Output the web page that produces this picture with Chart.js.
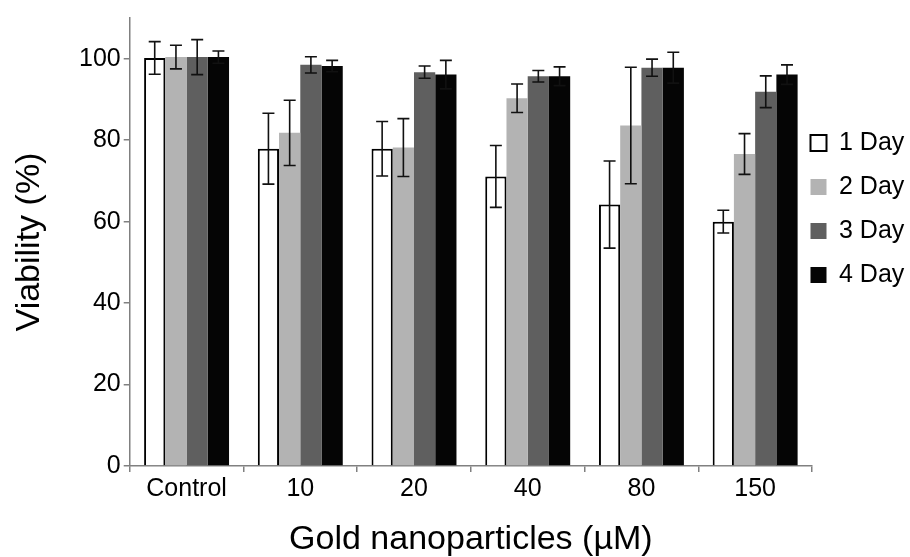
<!DOCTYPE html>
<html>
<head>
<meta charset="utf-8">
<script src="https://cdn.jsdelivr.net/npm/chart.js@4.4.1/dist/chart.umd.min.js"></script>
<style>
  html, body { margin: 0; padding: 0; background: #ffffff; }
  #wrap { width: 910px; height: 557px; position: relative; }
</style>
</head>
<body>
<div id="wrap"><canvas id="c"></canvas></div>
<script>
// ---- data ----
const categories = ['Control', '10', '20', '40', '80', '150'];
const seriesNames = ['1 Day', '2 Day', '3 Day', '4 Day'];
const day1 = [100.2, 77.9, 77.9, 71.1, 64.2, 60.0];
const day1Err = [4.0, 8.7, 6.7, 7.6, 10.7, 2.8];
const day2 = [100.4, 81.8, 78.2, 90.3, 83.6, 76.6];
const day2Err = [2.9, 8.0, 7.1, 3.5, 14.3, 5.0];
const day3 = [100.4, 98.5, 96.7, 95.7, 97.8, 91.9];
const day3Err = [4.3, 2.0, 1.5, 1.4, 2.1, 3.9];
const day4 = [100.4, 98.2, 96.1, 95.7, 97.8, 96.1];
const day4Err = [1.5, 1.4, 3.5, 2.3, 3.8, 2.4];
const yTicks = [0, 20, 40, 60, 80, 100];
const xTitle = 'Gold nanoparticles (\u00B5M)';
const yTitle = 'Viability (%)';

const FONT = "'Liberation Sans', Arial, sans-serif";
const seriesValues = [day1, day2, day3, day4];
const seriesErrors = [day1Err, day2Err, day3Err, day4Err];
const fills = ['#ffffff', '#b3b3b3', '#5f5f5f', '#050505'];
const borders = ['#000000', '#b3b3b3', '#5f5f5f', '#050505'];
const borderW = [2, 0, 0, 0];

const errorBars = {
  id: 'errorBars',
  afterDatasetsDraw(chart) {
    const ctx = chart.ctx;
    const ys = chart.scales.y;
    ctx.save();
    ctx.strokeStyle = '#111111';
    ctx.lineWidth = 1.6;
    chart.data.datasets.forEach((ds, i) => {
      const meta = chart.getDatasetMeta(i);
      meta.data.forEach((bar, j) => {
        const v = ds.data[j], e = ds.errors[j];
        const yt = ys.getPixelForValue(v + e);
        const yb = ys.getPixelForValue(v - e);
        const x = bar.x, cap = 6;
        ctx.beginPath();
        ctx.moveTo(x, yt); ctx.lineTo(x, yb);
        ctx.moveTo(x - cap, yt); ctx.lineTo(x + cap, yt);
        ctx.moveTo(x - cap, yb); ctx.lineTo(x + cap, yb);
        ctx.stroke();
      });
    });
    ctx.restore();
  }
};

const legendShift = {
  id: 'legendShift',
  afterLayout(chart) {
    const lg = chart.legend;
    if (lg) { lg.left -= 20.5; lg.width = lg.right - lg.left; }
  }
};

new Chart(document.getElementById('c'), {
  type: 'bar',
  data: {
    labels: categories,
    datasets: seriesNames.map((name, i) => ({
      label: name,
      data: seriesValues[i],
      errors: seriesErrors[i],
      backgroundColor: fills[i],
      borderColor: borders[i],
      borderWidth: borderW[i],
      barPercentage: 1.0,
      categoryPercentage: 0.747
    }))
  },
  options: {
    responsive: true,
    maintainAspectRatio: false,
    animation: false,
    devicePixelRatio: 1,
    layout: { padding: { top: 14, left: 0, right: 0, bottom: 0 } },
    plugins: {
      tooltip: { enabled: false },
      legend: {
        position: 'right',
        align: 'start',
        maxWidth: 98,
        title: { display: true, text: '', font: { size: 10, lineHeight: 1 }, padding: { top: 0, bottom: 87.5 } },
        labels: {
          boxWidth: 16,
          boxHeight: 16,
          padding: 19,
          color: '#000000',
          font: { family: FONT, size: 25 }
        }
      }
    },
    scales: {
      x: {
        grid: { display: true, drawOnChartArea: false, drawTicks: true, tickLength: 6, color: '#808080', lineWidth: 1.5 },
        border: { display: true, color: '#808080', width: 1.5 },
        ticks: { color: '#000000', padding: 2, font: { family: FONT, size: 25 } },
        title: { display: true, text: xTitle, color: '#000000', font: { family: FONT, size: 34, lineHeight: 1 }, padding: { top: 17, bottom: 0 } }
      },
      y: {
        min: 0,
        max: 110,
        grid: { display: true, drawOnChartArea: false, drawTicks: true, tickLength: 6, color: '#808080', lineWidth: 1.5 },
        border: { display: true, color: '#808080', width: 1.5 },
        afterBuildTicks(scale) { scale.ticks = yTicks.map(v => ({ value: v })); },
        ticks: { color: '#000000', padding: 3, font: { family: FONT, size: 25 } },
        title: { display: true, text: yTitle, color: '#000000', font: { family: FONT, size: 34, lineHeight: 1 }, padding: { top: 13, bottom: 29 } }
      }
    }
  },
  plugins: [errorBars, legendShift]
});
</script>
</body>
</html>
